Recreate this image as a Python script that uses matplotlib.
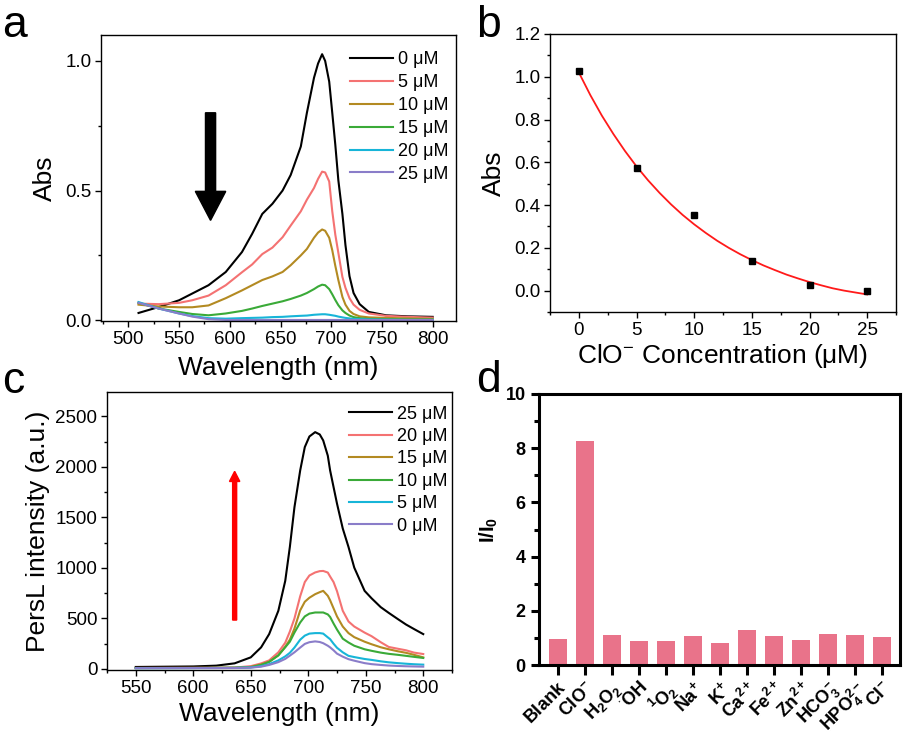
#!/usr/bin/env python3
"""Four-panel figure: absorption quench (a), fit (b), PersL turn-on (c), selectivity (d)."""

import matplotlib

matplotlib.use("Agg")
import matplotlib.pyplot as plt
from matplotlib.ticker import FormatStrFormatter, MultipleLocator

plt.rcParams["font.family"] = ["Liberation Sans", "DejaVu Sans"]
plt.rcParams["mathtext.fontset"] = "custom"
plt.rcParams["mathtext.rm"] = "Liberation Sans"
plt.rcParams["mathtext.it"] = "Liberation Sans:italic"
plt.rcParams["mathtext.bf"] = "Liberation Sans:bold"

# ---------------- data ----------------
# (a) absorbance spectra vs ClO- concentration
wl_a = [510, 530, 550, 563, 579, 596, 612, 622, 632, 642, 652, 660, 670, 676, 683,
        687, 691, 694, 698, 701, 704, 707, 711, 714, 718, 722, 728, 737, 754, 775, 800]
labels_a = ["0 μM", "5 μM", "10 μM", "15 μM", "20 μM", "25 μM"]
abs_0 = [0.028, 0.051, 0.077, 0.103, 0.135, 0.186, 0.263, 0.333, 0.41, 0.449, 0.50,
         0.56, 0.67, 0.80, 0.935, 0.99, 1.026, 1.0, 0.92, 0.80, 0.677, 0.54, 0.41,
         0.29, 0.17, 0.105, 0.062, 0.032, 0.019, 0.015, 0.013]
abs_5 = [0.064, 0.062, 0.067, 0.077, 0.095, 0.135, 0.185, 0.215, 0.255, 0.28, 0.32,
         0.365, 0.42, 0.465, 0.51, 0.545, 0.573, 0.57, 0.535, 0.42, 0.33, 0.26, 0.167,
         0.125, 0.085, 0.06, 0.04, 0.026, 0.017, 0.013, 0.01]
abs_10 = [0.06, 0.053, 0.05, 0.05, 0.057, 0.085, 0.115, 0.135, 0.155, 0.169, 0.186,
          0.212, 0.25, 0.275, 0.318, 0.338, 0.35, 0.345, 0.318, 0.27, 0.21, 0.155,
          0.09, 0.06, 0.036, 0.024, 0.015, 0.011, 0.009, 0.007, 0.005]
abs_15 = [0.067, 0.045, 0.032, 0.024, 0.019, 0.026, 0.036, 0.045, 0.055, 0.064, 0.073,
          0.082, 0.095, 0.105, 0.12, 0.13, 0.137, 0.135, 0.12, 0.10, 0.078, 0.058,
          0.038, 0.028, 0.018, 0.012, 0.008, 0.005, 0.004, 0.003, 0.003]
abs_20 = [0.07, 0.045, 0.026, 0.016, 0.008, 0.006, 0.008, 0.009, 0.01, 0.012, 0.013,
          0.015, 0.017, 0.018, 0.021, 0.022, 0.023, 0.023, 0.021, 0.019, 0.017, 0.014,
          0.011, 0.009, 0.007, 0.005, 0.004, 0.003, 0.002, 0.001, 0.001]
abs_25 = [0.067, 0.045, 0.026, 0.014, 0.004, 0.001, 0.001, 0.001, 0.001, 0.001, 0.001,
          0.001, 0.001, 0.001, 0.001, 0.001, 0.001, 0.001, 0.001, 0.001, 0.001, 0.001,
          0.001, 0.001, 0.001, 0.001, 0.001, 0.001, 0.001, 0.001, 0.001]

# (b) peak absorbance vs concentration, with exponential fit
conc_b = [0, 5, 10, 15, 20, 25]
abs_b = [1.027, 0.575, 0.352, 0.14, 0.028, 0.0]
fit_x = [0, 1, 2, 3, 4, 5, 6, 7, 8, 9, 10, 11, 12, 13, 14, 15, 16, 17, 18, 19,
         20, 21, 22, 23, 24, 25]
fit_y = [1.020, 0.914, 0.818, 0.732, 0.653, 0.581, 0.516, 0.457, 0.403, 0.354,
         0.310, 0.270, 0.233, 0.200, 0.170, 0.143, 0.118, 0.096, 0.075, 0.057,
         0.040, 0.025, 0.011, 0.000, -0.009, -0.018]

# (c) persistent luminescence spectra
wl_c = [550, 600, 620, 636, 650, 659, 666, 674, 680, 684, 688, 693, 697, 701, 706, 710,
        713, 717, 719, 722, 725, 730, 735, 740, 749, 755, 763, 770, 778, 785, 792, 800]
labels_c = ["25 μM", "20 μM", "15 μM", "10 μM", "5 μM", "0 μM"]
pl_25 = [20, 25, 33, 56, 115, 214, 345, 576, 872, 1207, 1600, 1965, 2195, 2300, 2343, 2320,
         2261, 2110, 1965, 1800, 1636, 1390, 1207, 1003, 773, 700, 612, 555, 493, 440, 395, 345]
pl_20 = [10, 11, 12, 14, 28, 55, 85, 165, 260, 370, 500, 720, 860, 925, 955, 968,
         970, 954, 915, 860, 770, 576, 470, 420, 360, 325, 265, 218, 200, 185, 162, 148]
pl_15 = [10, 11, 12, 13, 20, 45, 72, 135, 220, 290, 400, 580, 665, 705, 740, 760,
         773, 724, 680, 600, 520, 420, 355, 315, 270, 245, 215, 195, 175, 160, 140, 115]
pl_10 = [9, 10, 11, 12, 18, 40, 70, 135, 215, 270, 360, 460, 520, 548, 559, 559,
         559, 540, 515, 450, 390, 300, 262, 230, 195, 180, 162, 150, 140, 130, 120, 109]
pl_5 = [8, 9, 10, 11, 15, 28, 48, 85, 125, 160, 212, 290, 330, 350, 355, 355,
        350, 313, 295, 250, 210, 165, 130, 118, 99, 90, 76, 66, 58, 52, 47, 43]
pl_0 = [8, 9, 9, 10, 13, 23, 40, 68, 100, 132, 165, 212, 248, 265, 273, 267,
        255, 230, 214, 185, 152, 122, 97, 82, 58, 48, 40, 34, 30, 27, 25, 23]

# (d) selectivity, I/I0
species = [r"$\mathbf{Blank}$", r"$\mathbf{ClO^{-}}$", r"$\mathbf{H_2O_2}$",
           r"$^{\cdot}\mathbf{OH}$", r"$^{\mathbf{1}}\mathbf{O_2}$", r"$\mathbf{Na^{+}}$",
           r"$\mathbf{K^{+}}$", r"$\mathbf{Ca^{2+}}$", r"$\mathbf{Fe^{2+}}$",
           r"$\mathbf{Zn^{2+}}$", r"$\mathbf{HCO_3^{-}}$", r"$\mathbf{HPO_4^{2-}}$",
           r"$\mathbf{Cl^{-}}$"]
ratio_d = [0.96, 8.27, 1.09, 0.90, 0.90, 1.07, 0.82, 1.28, 1.08, 0.93, 1.14, 1.11, 1.03]

COLORS = ["#000000", "#f47272", "#b38a22", "#3aaa38", "#17b5d8", "#8a7dc9"]
BAR = "#e9738a"

W, H = 906, 732
fig = plt.figure(figsize=(W / 100, H / 100), dpi=100)


def px_axes(left, top, right, bottom):
    return fig.add_axes([left / W, 1 - bottom / H, (right - left) / W, (bottom - top) / H])


def style_thin(ax):
    for s in ax.spines.values():
        s.set_linewidth(1.0)
    ax.tick_params(which="major", direction="out", length=4, width=1.0,
                   labelsize=13.5, pad=3, top=False, right=False)
    ax.tick_params(which="minor", direction="out", length=2.2, width=1.0,
                   top=False, right=False)


# ---------------- (a) ----------------
ax = px_axes(101, 35, 456, 321)
series_a = [abs_0, abs_5, abs_10, abs_15, abs_20, abs_25]
for vals, lab, col in zip(series_a, labels_a, COLORS):
    ax.plot(wl_a, vals, color=col, lw=1.5, label=lab)
ax.set_xlim(473, 823)
ax.set_ylim(-0.003, 1.1)
ax.xaxis.set_major_locator(MultipleLocator(50))
ax.xaxis.set_minor_locator(MultipleLocator(25))
ax.yaxis.set_major_locator(MultipleLocator(0.5))
ax.yaxis.set_minor_locator(MultipleLocator(0.25))
ax.set_yticks([0, 0.5, 1.0])
ax.set_yticklabels(["0.0", "0.5", "1.0"])
style_thin(ax)
ax.set_xlabel("Wavelength (nm)", fontsize=19, labelpad=6)
ax.set_ylabel("Abs", fontsize=19, labelpad=6)
ax.arrow(581, 0.80, 0, -0.415, width=10, head_width=30, head_length=0.112,
         length_includes_head=True, color="black")
ax.legend(loc="upper left", bbox_to_anchor=(0.70, 0.944), frameon=False,
          fontsize=13, handlelength=2.4, handletextpad=0.3, labelspacing=0.33,
          borderpad=0, borderaxespad=0)

# ---------------- (b) ----------------
ax = px_axes(550, 34, 896, 312)
ax.plot(fit_x, fit_y, color="#ff1a1a", lw=1.3)
ax.plot(conc_b, abs_b, "s", color="black", ms=5)
ax.set_xlim(-2.5, 27.5)
ax.set_ylim(-0.1, 1.2)
ax.xaxis.set_major_locator(MultipleLocator(5))
ax.xaxis.set_minor_locator(MultipleLocator(2.5))
ax.yaxis.set_major_locator(MultipleLocator(0.2))
ax.yaxis.set_minor_locator(MultipleLocator(0.1))
ax.yaxis.set_major_formatter(FormatStrFormatter("%.1f"))
style_thin(ax)
ax.set_xlabel(r"ClO$^{-}$ Concentration (μM)", fontsize=19, labelpad=2)
ax.set_ylabel("Abs", fontsize=19, labelpad=6)

# ---------------- (c) ----------------
ax = px_axes(107, 392, 452, 670)
series_c = [pl_25, pl_20, pl_15, pl_10, pl_5, pl_0]
for vals, lab, col in zip(series_c, labels_c, COLORS):
    ax.plot(wl_c, vals, color=col, lw=1.5, label=lab)
ax.set_xlim(525, 825)
ax.set_ylim(-10, 2740)
ax.xaxis.set_major_locator(MultipleLocator(50))
ax.xaxis.set_minor_locator(MultipleLocator(25))
ax.yaxis.set_major_locator(MultipleLocator(500))
ax.yaxis.set_minor_locator(MultipleLocator(250))
style_thin(ax)
ax.set_xlabel("Wavelength (nm)", fontsize=19, labelpad=3.5)
ax.set_ylabel("PersL intensity (a.u.)", fontsize=19, labelpad=4)
ax.arrow(636, 484, 0, 1471, width=3.5, head_width=9, head_length=100,
         length_includes_head=True, color="#ff0000")
ax.legend(loc="upper left", bbox_to_anchor=(0.70, 0.951), frameon=False,
          fontsize=13, handlelength=2.4, handletextpad=0.3, labelspacing=0.3,
          borderpad=0, borderaxespad=0)

# ---------------- (d) ----------------
ax = px_axes(539, 394, 900, 665)
ax.bar(range(len(ratio_d)), ratio_d, width=0.66, color=BAR)
ax.set_xlim(-0.7, 12.65)
ax.set_ylim(0, 10)
ax.set_xticks(range(len(ratio_d)))
ax.set_xticklabels(species, rotation=45, ha="right", rotation_mode="anchor",
                   fontsize=13.5)
ax.yaxis.set_major_locator(MultipleLocator(2))
ax.yaxis.set_minor_locator(MultipleLocator(1))
for s in ax.spines.values():
    s.set_linewidth(2.2)
ax.tick_params(which="major", direction="out", length=6, width=2.2, labelsize=13)
ax.tick_params(axis="x", which="major", length=7, pad=3)
ax.tick_params(axis="x", which="minor", bottom=False)
ax.tick_params(axis="y", which="minor", direction="out", length=3.5, width=2.2)
for t in ax.get_yticklabels():
    t.set_fontweight("bold")
ax.set_ylabel(r"$\mathbf{I/I_0}$", fontsize=14.5, labelpad=4)

# ---------------- panel letters ----------------
fig.text(0.002, 1 - 37 / H, "a", fontsize=32, va="baseline")
fig.text(476 / W, 1 - 37 / H, "b", fontsize=32, va="baseline")
fig.text(0.002, 1 - 393 / H, "c", fontsize=32, va="baseline")
fig.text(476 / W, 1 - 392 / H, "d", fontsize=32, va="baseline")

fig.savefig("out.png", dpi=100, facecolor="white")
